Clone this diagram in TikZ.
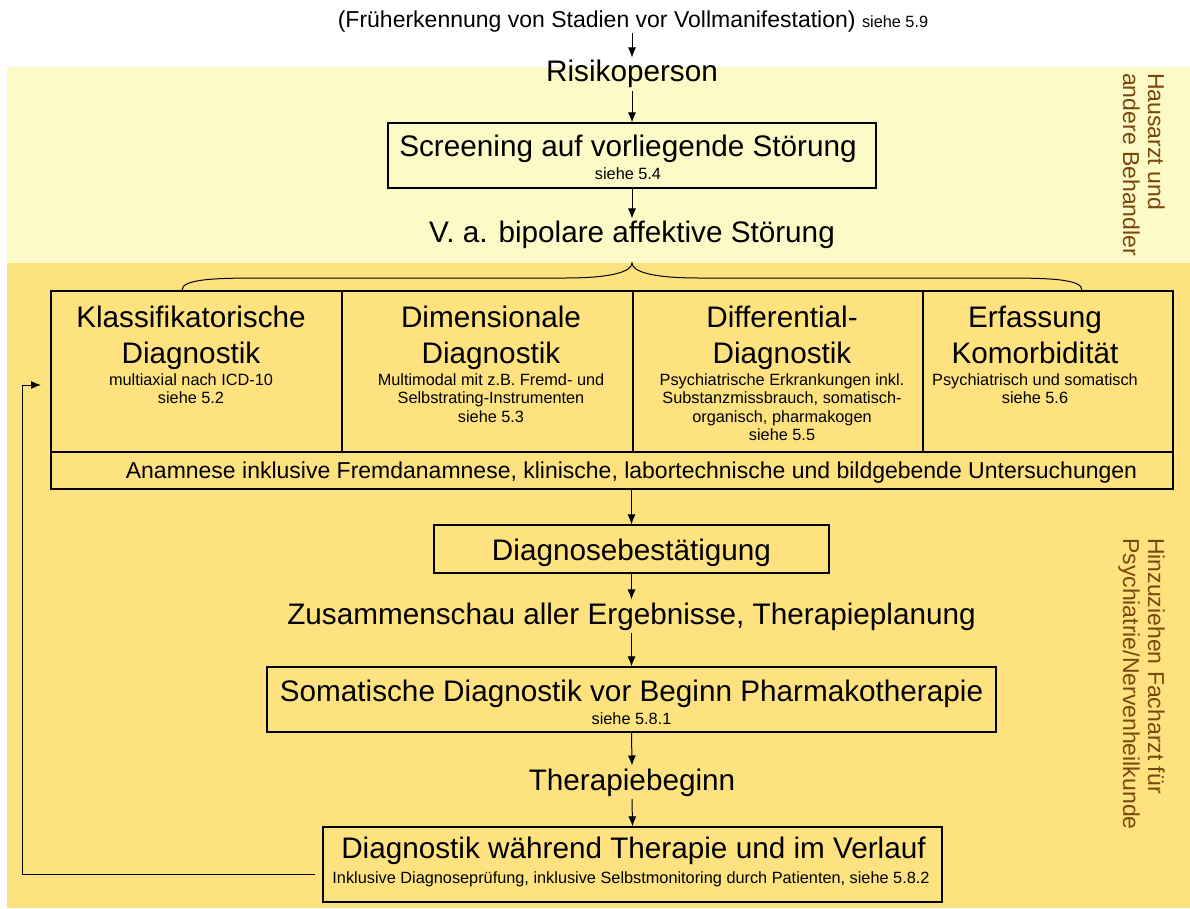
\documentclass[tikz,border=0pt]{standalone}
\usepackage{fontspec}
\setmainfont{Liberation Sans}
\usetikzlibrary{arrows.meta}
\definecolor{hellgelb}{RGB}{252,250,198}
\definecolor{dunkelgelb}{RGB}{254,226,128}
\definecolor{braun}{RGB}{122,70,10}
\newcommand\grossschrift{\fontsize{29.7}{36}\selectfont}
\newcommand\mittelschrift{\fontsize{23}{28}\selectfont}
\newcommand\kleinschrift{\fontsize{16.3}{18.5}\selectfont}
\tikzset{
  gross/.style={font=\grossschrift, anchor=base, inner sep=0pt, outer sep=3pt, align=center},
  mittel/.style={font=\mittelschrift, anchor=base, inner sep=0pt, outer sep=3pt},
  klein/.style={font=\kleinschrift, anchor=base, inner sep=0pt, align=center},
  kasten/.style={draw, line width=1.2pt, inner sep=0pt},
  linie/.style={line width=1.2pt},
  seite/.style={font=\fontsize{23}{25}\selectfont, text=braun, rotate=-90, align=left, anchor=north west, inner sep=0pt},
  pfeil/.style={-{Latex[length=10pt,width=8pt]}, line width=1pt}
}

\begin{document}
\begin{tikzpicture}[x=1pt,y=-1pt]
\def\mx{632}   % Mittelachse
\useasboundingbox (0,0) rectangle (1190,909);
% Hintergrund
\fill[hellgelb] (7,67) rectangle (1190,263);
\fill[dunkelgelb] (7,263) rectangle (1190,908);
\node[seite] (hausarzt) at (1165,73) {Hausarzt und\\andere Behandler};
\node[seite] (facharzt) at (1165,538) {Hinzuziehen Facharzt für\\Psychiatrie/Nervenheilkunde};

% oberer Teil
\node[mittel, outer sep=0pt] (frueh) at (633,28) {(Früherkennung von Stadien vor Vollmanifestation) {\kleinschrift siehe 5.9}};
\node[gross] (risiko) at (\mx,82) {Risikoperson};
\node[kasten, minimum width=488pt, minimum height=65pt] (screen) at (\mx,155.5) {};
\node[gross] (screentitel) at (628,157) {Screening auf vorliegende Störung};
\node[klein] (screensiehe) at (628,180) {siehe 5.4};
\node[gross] (verdacht) at (\mx,243) {V. a. bipolare affektive Störung};

% Klammer
\draw[linie, line width=1pt] (182,290) .. controls (182,279) and (215,278) .. (262,278) -- (566,278)
  .. controls (610,278) and (632,272) .. (632,263)
  .. controls (632,272) and (654,278) .. (698,278) -- (1002,278)
  .. controls (1049,278) and (1082,279) .. (1082,290);

% Tabelle (Grundlinie jeweils der letzten Zeile)
\node[kasten, minimum width=1122pt, minimum height=198pt] (tabelle) at (612,390) {};
\foreach \x in {342,633,923} { \draw[linie] (\x,291) -- (\x,452); }
\draw[linie] (51,452) -- (1173,452);
\foreach \x/\n/\u/\titel/\unter in {
  191/klass/403.5/{Klassifikatorische\\Diagnostik}/{multiaxial nach ICD-10\\siehe 5.2},
  491/dimens/422/{Dimensionale\\Diagnostik}/{Multimodal mit z.B. Fremd- und\\Selbstrating-Instrumenten\\siehe 5.3},
  782/diff/440.5/{Differential-\\Diagnostik}/{Psychiatrische Erkrankungen inkl.\\Substanzmissbrauch, somatisch-\\organisch, pharmakogen\\siehe 5.5},
  1035/komorb/403.5/{Erfassung\\Komorbidität}/{Psychiatrisch und somatisch\\siehe 5.6}}
{ \node[gross] (\n titel) at (\x,363) {\titel};
  \node[klein] (\n unter) at (\x,\u) {\unter}; }
\node[mittel] (anamnese) at (631.5,478) {Anamnese inklusive Fremdanamnese, klinische, labortechnische und bildgebende Untersuchungen};

% unterer Teil
\node[kasten, minimum width=395pt, minimum height=48pt] (bestaet) at (631.5,549) {};
\node[gross] (bestaettitel) at (631.5,560) {Diagnosebestätigung};
\node[gross] (zusammen) at (631.5,624) {Zusammenschau aller Ergebnisse, Therapieplanung};
\node[kasten, minimum width=729pt, minimum height=65pt] (somat) at (631.5,699.5) {};
\node[gross] (somattitel) at (631.5,701) {Somatische Diagnostik vor Beginn Pharmakotherapie};
\node[klein] (somatsiehe) at (631.5,724) {siehe 5.8.1};
\node[gross] (beginn) at (\mx,790) {Therapiebeginn};
\node[kasten, minimum width=619pt, minimum height=75pt] (verlauf) at (632.5,864.5) {};
\node[gross] (verlauftitel) at (633.5,858) {Diagnostik während Therapie und im Verlauf};
\node[klein] (verlaufunter) at (631,883) {Inklusive Diagnoseprüfung, inklusive Selbstmonitoring durch Patienten, siehe 5.8.2};

% Pfeile
\draw[pfeil] (frueh.south -| risiko.north) -- (risiko.north);
\draw[pfeil] (risiko.south) -- (screen.north);
\draw[pfeil] (screen.south) -- (verdacht.north -| screen.south);
\draw[pfeil] (tabelle.south -| bestaet.north) -- (bestaet.north);
\draw[pfeil] (bestaet.south) -- (zusammen.north);
\draw[pfeil] (zusammen.south) -- (somat.north);
\draw[pfeil] (somat.south) -- (beginn.north);
\draw[pfeil] (beginn.south) -- (verlauf.north);
% Rueckkopplung
\coordinate (ecke) at (22,385);
\coordinate (ziel) at (41,385);
\draw[pfeil] ([xshift=-7pt,yshift=-9.5pt]verlauf.west) -| (ecke) -- (ziel);
\end{tikzpicture}
\end{document}
